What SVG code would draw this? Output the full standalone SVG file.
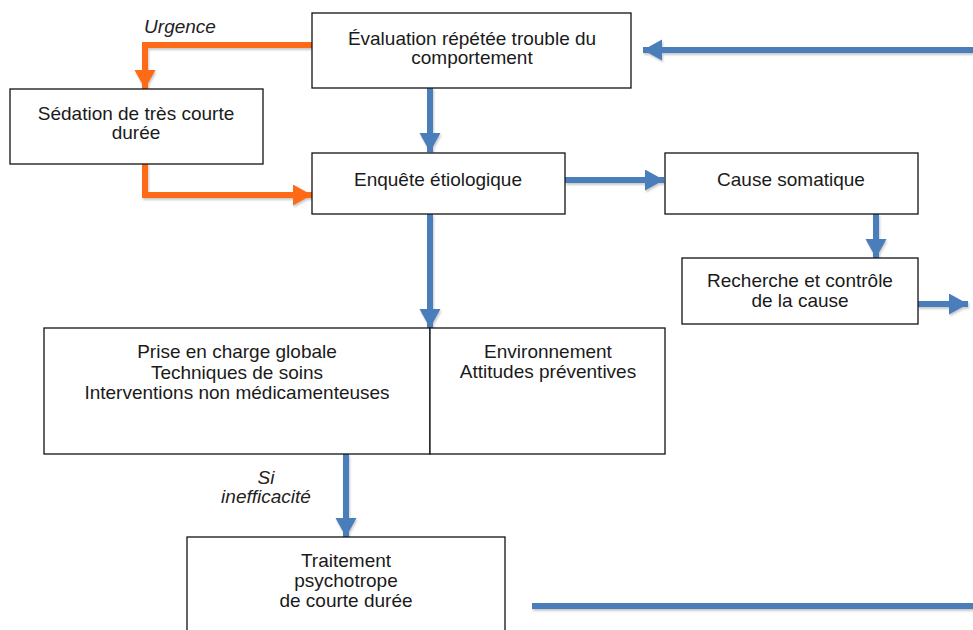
<svg xmlns="http://www.w3.org/2000/svg" width="973" height="630" viewBox="0 0 973 630">
<defs>
<style>
.box{fill:#fff;stroke:#111;stroke-width:1.3}
.t{font-family:"Liberation Sans",Arial,sans-serif;font-size:19px;fill:#1a1a1a;text-anchor:middle}
.lbl{font-family:"Liberation Sans",Arial,sans-serif;font-size:19px;font-style:italic;fill:#222;text-anchor:middle}
.blue{fill:none;stroke:#4a7ebb;stroke-width:6}
.orange{fill:none;stroke:#ff6a13;stroke-width:6}
</style>
<filter id="sh" x="-5%" y="-20%" width="110%" height="140%"><feDropShadow dx="1" dy="2" stdDeviation="1" flood-color="#888" flood-opacity="0.45"/></filter>
<marker id="ab" markerUnits="userSpaceOnUse" markerWidth="22" markerHeight="22" refX="19" refY="10.5" orient="auto"><path d="M0,0 L19,10.5 L0,21 Z" fill="#4a7ebb"/></marker>
<marker id="ao" markerUnits="userSpaceOnUse" markerWidth="22" markerHeight="22" refX="19" refY="10.5" orient="auto"><path d="M0,0 L19,10.5 L0,21 Z" fill="#ff6a13"/></marker>
</defs>
<rect width="973" height="630" fill="#fff"/>
<g id="connectors" filter="url(#sh)">
<path class="orange" d="M312,45 H145 V89" marker-end="url(#ao)"/>
<path class="orange" d="M145,163 V195 H312" marker-end="url(#ao)"/>
<path class="blue" d="M430,88 V152" marker-end="url(#ab)"/>
<path class="blue" d="M565,180 H664" marker-end="url(#ab)"/>
<path class="blue" d="M876,214 V258" marker-end="url(#ab)"/>
<path class="blue" d="M917,304 H968" marker-end="url(#ab)"/>
<path class="blue" d="M973,50 H643" marker-end="url(#ab)"/>
<path class="blue" d="M430,214 V328" marker-end="url(#ab)"/>
<path class="blue" d="M346,454 V537" marker-end="url(#ab)"/>
<path class="blue" d="M532,606 H973"/>
</g>
<g id="labels">
<text class="lbl" x="180" y="33">Urgence</text>
<text class="lbl" x="266" y="484">Si</text>
<text class="lbl" x="266" y="503">inefficacité</text>
</g>
<g id="evaluation"><rect class="box" x="312" y="13" width="319" height="75"/><text class="t" x="472" y="45">Évaluation répétée trouble du</text><text class="t" x="472" y="64">comportement</text></g>
<g id="sedation"><rect class="box" x="10" y="89" width="253" height="75"/><text class="t" x="136" y="120">Sédation de très courte</text><text class="t" x="136" y="139">durée</text></g>
<g id="enquete"><rect class="box" x="312" y="153" width="253" height="61"/><text class="t" x="438" y="186">Enquête étiologique</text></g>
<g id="cause"><rect class="box" x="665" y="153" width="253" height="61"/><text class="t" x="791" y="186">Cause somatique</text></g>
<g id="recherche"><rect class="box" x="682" y="258" width="236" height="66"/><text class="t" x="800" y="287">Recherche et contrôle</text><text class="t" x="800" y="307">de la cause</text></g>
<g id="prise"><rect class="box" x="44" y="328" width="386" height="126"/><text class="t" x="237" y="358">Prise en charge globale</text><text class="t" x="237" y="379">Techniques de soins</text><text class="t" x="237" y="399">Interventions non médicamenteuses</text></g>
<g id="environnement"><rect class="box" x="430" y="328" width="235" height="126"/><text class="t" x="548" y="358">Environnement</text><text class="t" x="548" y="378">Attitudes préventives</text></g>
<g id="traitement"><rect class="box" x="187" y="537" width="318" height="100"/><text class="t" x="346" y="567">Traitement</text><text class="t" x="346" y="587">psychotrope</text><text class="t" x="346" y="607">de courte durée</text></g>
</svg>
